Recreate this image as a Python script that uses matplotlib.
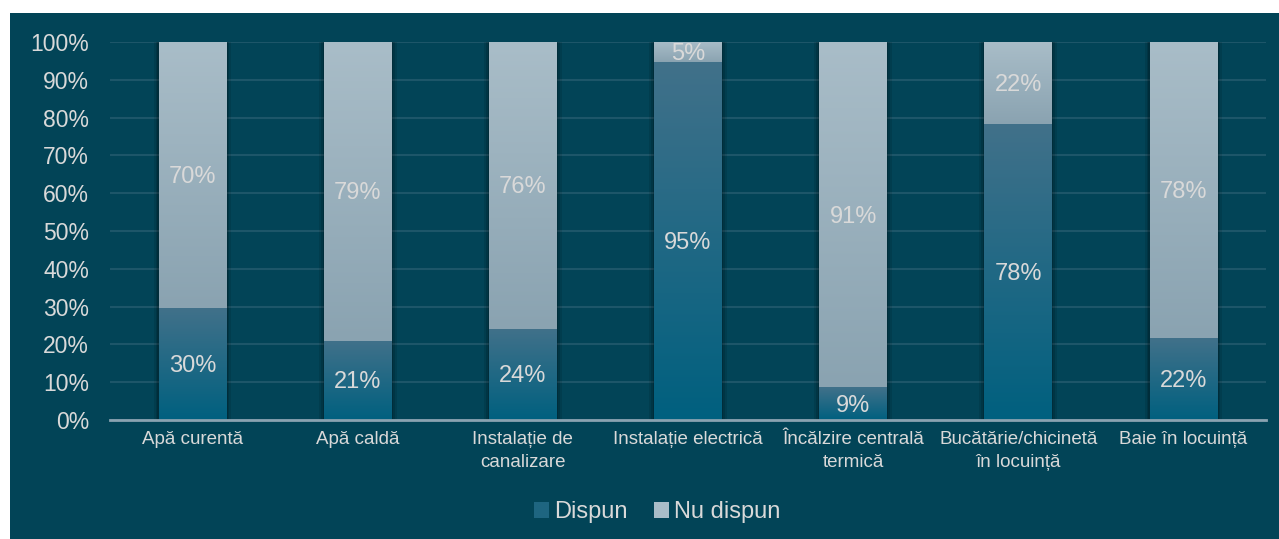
import numpy as np
import matplotlib
matplotlib.use('Agg')
import matplotlib.pyplot as plt
from matplotlib.patches import Rectangle, Patch
from matplotlib.colors import LinearSegmentedColormap

plt.rcParams['font.family'] = ['Liberation Sans', 'DejaVu Sans']

# date
categorii = ['Apă curentă', 'Apă caldă', 'Instalație de\ncanalizare', 'Instalație electrică',
             'Încălzire centrală\ntermică', 'Bucătărie/chicinetă\nîn locuință', 'Baie în locuință']
dispun = [29.6, 20.9, 24.1, 94.6, 8.6, 78.3, 21.6]
nu_dispun = [70.4, 79.1, 75.9, 5.4, 91.4, 21.7, 78.4]
serii = ['Dispun', 'Nu dispun']

bg = '#024457'
txt = '#d9d9d9'
cm_dispun = LinearSegmentedColormap.from_list('d', ['#00607f', '#41718a'])
cm_nu = LinearSegmentedColormap.from_list('n', ['#8aa3b1', '#a9bdc8'])

fig = plt.figure(figsize=(12.79, 5.39), dpi=100, facecolor='white')
# panoul inchis
fig.patches.append(Rectangle((10 / 1279, 0), 1, 1 - 13 / 539, transform=fig.transFigure,
                             facecolor=bg, edgecolor='none', zorder=-10))

ax = fig.add_axes([110 / 1279, 1 - 420 / 539, 1156 / 1279, 378 / 539])
ax.set_facecolor('none')

x = np.arange(len(categorii))
w = 0.41
b1 = ax.bar(x, dispun, w, color='#1e6580', zorder=3)
b2 = ax.bar(x, nu_dispun, w, bottom=dispun, color='#a0b5c1', zorder=3)

grad = np.linspace(0, 1, 256).reshape(-1, 1)
for bars, cm in ((b1, cm_dispun), (b2, cm_nu)):
    for p in bars:
        x0, y0 = p.get_x(), p.get_y()
        x1, y1 = x0 + p.get_width(), y0 + p.get_height()
        ax.imshow(grad, extent=[x0, x1, y0, y1], origin='lower', aspect='auto',
                  cmap=cm, zorder=4, interpolation='bicubic')
# umbre
for p in b2:
    x0 = p.get_x()
    for k, a in ((0.03, 0.10), (0.018, 0.12), (0.008, 0.14)):
        ax.add_patch(Rectangle((x0 - k, 0), w + 2 * k, 100 + k * 10, facecolor='black',
                               edgecolor='none', alpha=a, zorder=2))

for i in range(len(categorii)):
    ax.text(x[i], dispun[i] / 2 - 0.5, f'{round(dispun[i])}%', ha='center', va='center',
            color=txt, fontsize=17, zorder=6)
    ax.text(x[i], dispun[i] + nu_dispun[i] / 2 - 0.5, f'{round(nu_dispun[i])}%', ha='center',
            va='center', color=txt, fontsize=17, zorder=6)

ax.set_xlim(-0.5, len(categorii) - 0.5)
ax.set_ylim(0, 100)
ax.set_yticks(range(0, 101, 10))
ax.set_yticklabels([f'{v}%' for v in range(0, 101, 10)])
ax.set_xticks(x)
ax.set_xticklabels(categorii, fontsize=13.5, color=txt, linespacing=1.45)
ax.tick_params(axis='y', length=0, pad=15, labelsize=16.5, labelcolor=txt)
ax.tick_params(axis='x', length=0, pad=8)
ax.grid(axis='y', color='#1d5669', linewidth=1.5, zorder=1)
ax.set_axisbelow(True)
for s in ['top', 'right', 'left']:
    ax.spines[s].set_visible(False)
ax.spines['bottom'].set_color('#8aa3b1')
ax.spines['bottom'].set_linewidth(2)
ax.spines['bottom'].set_zorder(5)

handles = [Patch(facecolor='#1e6580', label=serii[0]), Patch(facecolor='#a9bdc8', label=serii[1])]
fig.legend(handles=handles, loc='center', bbox_to_anchor=(657 / 1279, 1 - 512 / 539), ncol=2,
           frameon=False, fontsize=17, labelcolor=txt, handlelength=0.65, handleheight=0.65,
           handletextpad=0.2, columnspacing=1.1)

fig.savefig('out.png', dpi=100, facecolor='white')
